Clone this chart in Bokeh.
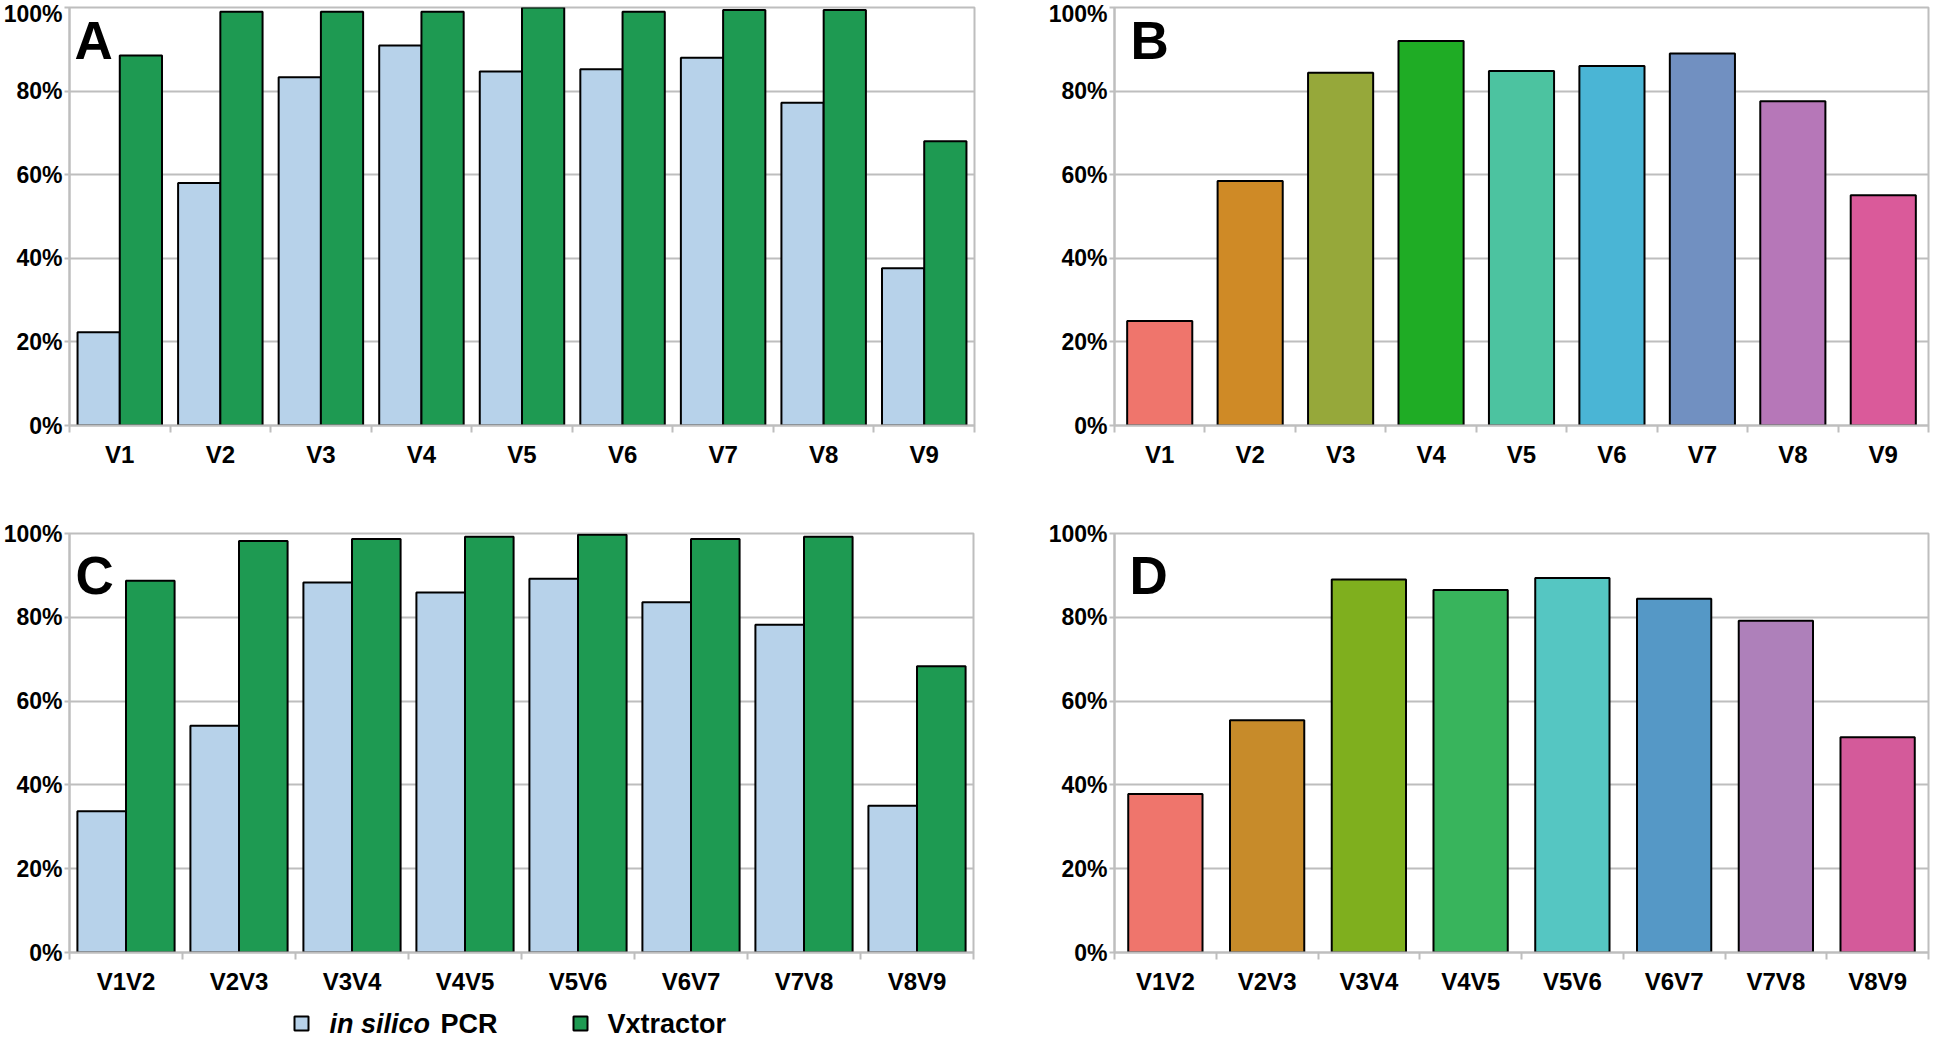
from bokeh.plotting import figure
from bokeh.models import Range1d, FixedTicker, PrintfTickFormatter, Label
from bokeh.layouts import row, column
from bokeh.embed import file_html
from bokeh.resources import INLINE
from bokeh.core.properties import value

# ---------------- data ----------------
single_regions = ["V1", "V2", "V3", "V4", "V5", "V6", "V7", "V8", "V9"]
a_insilico = [22.3, 58.0, 83.3, 90.9, 84.7, 85.2, 88.0, 77.2, 37.6]
a_vxtractor = [88.5, 99.0, 99.0, 99.0, 100.0, 99.0, 99.4, 99.4, 68.0]

b_values = [25.0, 58.5, 84.4, 92.0, 84.8, 86.0, 89.0, 77.6, 55.1]
b_colors = ["#EF756C", "#CF8A26", "#96A83A", "#1FAC25", "#4CC3A0",
            "#4AB5D5", "#7190C1", "#B677B8", "#DA5A9A"]

pair_regions = ["V1V2", "V2V3", "V3V4", "V4V5", "V5V6", "V6V7", "V7V8", "V8V9"]
c_insilico = [33.7, 54.1, 88.3, 85.9, 89.2, 83.6, 78.2, 35.0]
c_vxtractor = [88.7, 98.2, 98.7, 99.2, 99.7, 98.7, 99.2, 68.3]

d_values = [37.8, 55.4, 89.0, 86.5, 89.4, 84.4, 79.2, 51.4]
d_colors = ["#EF756C", "#C78B2A", "#7FAF1E", "#38B45C", "#55C6C2",
            "#5598C6", "#AE80BA", "#D45A9A"]

y_ticks = [0, 20, 40, 60, 80, 100]
series_names = ["in silico PCR", "Vxtractor"]
series_colors = ["#B7D2EA", "#1E9A52"]

FONT = "Liberation Sans"
GRID = "#BEBEBE"


def make_panel(cats, width, height, left, right, top, bottom, letter, letter_y, letter_dx):
    n = len(cats)
    p = figure(width=width, height=height, output_backend="svg", toolbar_location=None,
               x_range=Range1d(-0.5, n - 0.5), y_range=Range1d(0, 100),
               min_border_left=left, min_border_right=right,
               min_border_top=top, min_border_bottom=bottom)
    p.background_fill_color = "white"
    p.border_fill_color = "white"
    p.outline_line_color = GRID
    p.outline_line_width = 2
    p.xgrid.visible = False
    p.ygrid.ticker = FixedTicker(ticks=y_ticks)
    p.ygrid.grid_line_color = GRID
    p.ygrid.grid_line_width = 2

    # x axis: labels at category centres, tick marks at category boundaries
    xa = p.xaxis[0]
    xa.ticker = FixedTicker(ticks=list(range(n)),
                            minor_ticks=[i - 0.5 for i in range(n + 1)])
    xa.major_label_overrides = {i: c for i, c in enumerate(cats)}
    xa.major_tick_line_color = None
    xa.major_tick_out = 0
    xa.major_tick_in = 0
    xa.minor_tick_line_color = GRID
    xa.minor_tick_line_width = 2
    xa.minor_tick_out = 7
    xa.minor_tick_in = 0
    xa.axis_line_color = GRID
    xa.axis_line_width = 2
    xa.major_label_standoff = 8
    xa.major_label_text_font = FONT
    xa.major_label_text_font_style = "bold"
    xa.major_label_text_font_size = "24px"
    xa.major_label_text_color = "black"

    ya = p.yaxis[0]
    ya.ticker = FixedTicker(ticks=y_ticks)
    ya.formatter = PrintfTickFormatter(format="%d%%")
    ya.minor_tick_line_color = None
    ya.major_tick_line_color = GRID
    ya.major_tick_line_width = 2
    ya.major_tick_out = 5
    ya.major_tick_in = 0
    ya.axis_line_color = GRID
    ya.axis_line_width = 2
    ya.major_label_standoff = 2
    ya.major_label_text_font = FONT
    ya.major_label_text_font_style = "bold"
    ya.major_label_text_font_size = "23px"
    ya.major_label_text_color = "black"

    p.add_layout(Label(x=-0.5, y=letter_y, x_offset=letter_dx, text=letter,
                       text_font=FONT, text_font_style="bold",
                       text_font_size="53px", text_color="black",
                       text_baseline="alphabetic"))
    return p


def grouped(p, cats, s1, s2, w):
    xs = list(range(len(cats)))
    p.vbar(x=[x - w / 2 for x in xs], top=s1, width=w, bottom=0,
           fill_color=series_colors[0], line_color="black", line_width=2)
    p.vbar(x=[x + w / 2 for x in xs], top=s2, width=w, bottom=0,
           fill_color=series_colors[1], line_color="black", line_width=2)


def coloured(p, cats, vals, cols, w):
    xs = list(range(len(cats)))
    p.vbar(x=xs, top=vals, width=w, bottom=0, fill_color=cols,
           line_color="black", line_width=2)


# panel A
pa = make_panel(single_regions, 990, 490, 67, 16, 7, 65, "A", 92.0, 5)
grouped(pa, single_regions, a_insilico, a_vxtractor, 0.42)

# panel B
pb = make_panel(single_regions, 940, 490, 124, 2, 7, 65, "B", 92.0, 16)
coloured(pb, single_regions, b_values, b_colors, 0.72)

# panel C
pc = make_panel(pair_regions, 990, 510, 67, 17, 43, 48, "C", 90.0, 6)
grouped(pc, pair_regions, c_insilico, c_vxtractor, 0.43)

# panel D
pd = make_panel(pair_regions, 940, 510, 124, 2, 43, 48, "D", 90.0, 15)
coloured(pd, pair_regions, d_values, d_colors, 0.73)

# legend strip
LW, LH = 1930, 37
YC = 14
pl = figure(width=LW, height=LH, output_backend="svg", toolbar_location=None,
            x_range=Range1d(0, LW), y_range=Range1d(0, LH),
            min_border=0)
pl.axis.visible = False
pl.grid.visible = False
pl.outline_line_color = None
pl.border_fill_color = "white"
pl.rect(x=[301, 580], y=[YC, YC], width=14, height=14,
        fill_color=series_colors, line_color="black", line_width=2)
pl.text(x=[329], y=[YC], text=["in silico"], text_font=value(FONT),
        text_font_style="bold italic", text_font_size="27px",
        text_baseline="middle", text_align="left", text_color="black")
pl.text(x=[440], y=[YC], text=["PCR"], text_font=value(FONT),
        text_font_style="bold", text_font_size="27px",
        text_baseline="middle", text_align="left", text_color="black")
pl.text(x=[607], y=[YC], text=[series_names[1]], text_font=value(FONT),
        text_font_style="bold", text_font_size="27px",
        text_baseline="middle", text_align="left", text_color="black")

layout = column(row(pa, pb), row(pc, pd), pl)
open("out.html", "w").write(file_html(layout, INLINE))
